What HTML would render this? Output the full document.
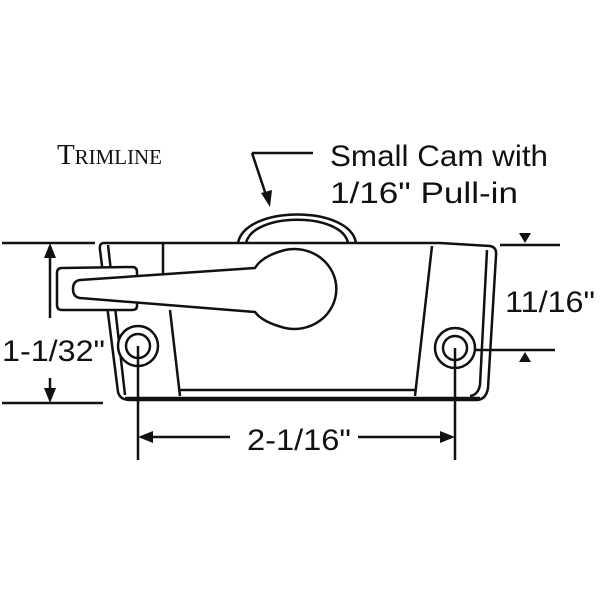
<!DOCTYPE html>
<html><head><style>html,body{margin:0;padding:0;background:#fff}svg{display:block}</style></head><body>
<svg width="600" height="600" viewBox="0 0 600 600" xmlns="http://www.w3.org/2000/svg">
<g fill="none" stroke="#111" stroke-width="2.5" stroke-linejoin="round">
<path d="M238,243 C245,205 350,205 356,243"/>
<path d="M246,243 C253,212 342,212 348,243"/>
<path d="M104,243 L440,243 L490,246 Q497,247 496,256 L488,388 Q486,400 476,400 L130,400 Q120,400 118,392 L100,250 Q99,243 104,243 Z" fill="#fff"/>
<path d="M108,245 L125,395"/>
<path d="M487,250 L480,385 Q478,395 470,396"/>
<path d="M163,243 L163,305"/>
<path d="M170,310 L180,396"/>
<path d="M432,246 L415,396"/>
<path d="M180,390 L415,390"/>
<path d="M125,398 L480,398"/>
<path d="M62,268 L132,267 Q137,267 137,272 L137,306 Q137,310 132,310 L62,310 Q57,310 57,305 L57,273 Q57,268 62,268 Z" fill="#fff"/>
<path d="M80,280 L255,268 Q262,256 285,250 A42,40 0 1 1 285,328 Q262,322 255,312 L80,298 Q73,297 73,289 Q73,281 80,280 Z" fill="#fff"/>
<circle cx="138" cy="346" r="20" fill="#fff"/><circle cx="138" cy="346" r="12"/>
<circle cx="455" cy="348" r="20" fill="#fff"/><circle cx="455" cy="348" r="12"/>
<path d="M2,243 L95,243 M2,403 L103,403 M50,255 L50,318 M50,378 L50,392"/>
<path d="M138,346 L138,460 M455,348 L455,460 M150,437 L230,437 M358,437 L443,437"/>
<path d="M500,245 L560,245 M475,350 L555,350"/>
<path d="M252,153 L313,153 M252,153 L266,195"/>
</g>
<g fill="#111">
<polygon points="50,243 44,258 56,258"/>
<polygon points="50,403 44,388 56,388"/>
<polygon points="138,437 153,431 153,443"/>
<polygon points="455,437 440,431 440,443"/>
<polygon points="525,243 519,233 531,233"/>
<polygon points="525,352 519,362 531,362"/>
<polygon points="270,207 261,193 272,190"/>
</g>
<g font-family="Liberation Sans, sans-serif" fill="#111" font-size="30" lengthAdjust="spacingAndGlyphs">
<text x="2" y="361" textLength="103" lengthAdjust="spacingAndGlyphs">1-1/32"</text>
<text x="247" y="450" textLength="104" lengthAdjust="spacingAndGlyphs">2-1/16"</text>
<text x="505" y="312" textLength="90" lengthAdjust="spacingAndGlyphs">11/16"</text>
<text x="330" y="166" textLength="218" lengthAdjust="spacingAndGlyphs">Small Cam with</text>
<text x="330" y="203" textLength="188" lengthAdjust="spacingAndGlyphs">1/16" Pull-in</text>
</g>
<text x="57" y="164" font-family="Liberation Serif, serif" font-size="29" fill="#111" textLength="105" lengthAdjust="spacingAndGlyphs">T<tspan font-size="21">RIMLINE</tspan></text>
</svg>
</body></html>
